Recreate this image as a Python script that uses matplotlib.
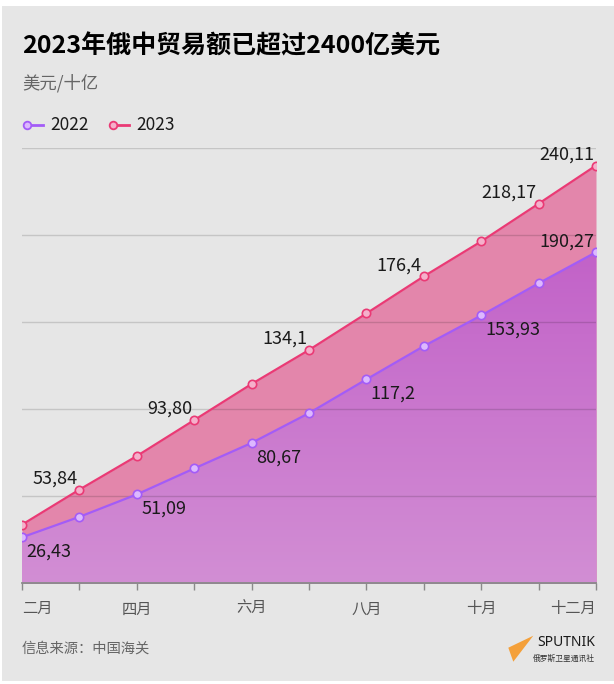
import numpy as np
import matplotlib
matplotlib.use("Agg")
import matplotlib.pyplot as plt
from matplotlib.patches import Rectangle, Polygon
from matplotlib.lines import Line2D

plt.rcParams['font.family'] = ['Noto Sans CJK SC', 'DejaVu Sans']

# data (cumulative trade, billion USD)
months = ['二月', '三月', '四月', '五月', '六月', '七月', '八月', '九月', '十月', '十一月', '十二月']
trade_2022 = [26.43, 38.2, 51.09, 66.0, 80.67, 97.8, 117.2, 136.3, 153.93, 172.4, 190.27]
trade_2023 = [33.69, 53.84, 73.15, 93.80, 114.55, 134.1, 155.1, 176.4, 196.48, 218.17, 240.11]
labels_2022 = {0: '26,43', 2: '51,09', 4: '80,67', 6: '117,2', 8: '153,93', 10: '190,27'}
labels_2023 = {1: '53,84', 3: '93,80', 5: '134,1', 7: '176,4', 9: '218,17', 10: '240,11'}

W, H = 614, 684
def fx(px): return px / W
def fy(py): return 1 - py / H

c22, c23 = '#a35cf7', '#ea3a75'
bg = '#e6e6e6'

fig = plt.figure(figsize=(W / 100, H / 100), dpi=100)
fig.patch.set_facecolor('white')
fig.add_artist(Rectangle((fx(2.3), fy(681)), fx(614) - fx(2.3), fy(5.7) - fy(681),
                         transform=fig.transFigure, facecolor=bg, edgecolor='none', zorder=-10))

ax = fig.add_axes([fx(22), fy(583.3), fx(596) - fx(22), fy(148.3) - fy(583.3)])
ax.set_facecolor('none')
x = np.arange(len(months))

# areas: pink band for 2023, purple gradient for 2022
ax.fill_between(x, 0, trade_2023, color='#e386ab', lw=0, zorder=1)
ax.fill_between(x, 0, trade_2022, color='#c86fca', lw=0, zorder=1.5)
clip = ax.fill_between(x, 0, trade_2022, color='none', lw=0)
grad = np.linspace(0, 1, 256).reshape(-1, 1)
cmap = matplotlib.colors.LinearSegmentedColormap.from_list('g', ['#d28ed4', '#c262c8'])
im = ax.imshow(grad, cmap=cmap, origin='lower', aspect='auto',
               extent=(0, 10, 0, max(trade_2022)), zorder=2)
im.set_clip_path(clip.get_paths()[0], transform=ax.transData)

# gridlines
for gv in [50, 100, 150, 200, 250]:
    ax.axhline(gv, color='black', alpha=0.14, lw=1, zorder=3)

ax.plot(x, trade_2022, color=c22, lw=1.6, marker='o', ms=6, mfc='#dcb8ff', mec=c22, mew=1.2, zorder=5)
ax.plot(x, trade_2023, color=c23, lw=1.6, marker='o', ms=6, mfc='#f5b0cb', mec=c23, mew=1.2, zorder=5)

# value labels
for i, t in labels_2022.items():
    if i == len(months) - 1:
        ax.annotate(t, (x[i], trade_2022[i]), xytext=(-1.5, 4.3), textcoords='offset points',
                    ha='right', va='baseline', fontsize=13, color='#1a1a1a', zorder=6)
    else:
        ax.annotate(t, (x[i], trade_2022[i]), xytext=(3.2, -4), textcoords='offset points',
                    ha='left', va='top', fontsize=13, color='#1a1a1a', zorder=6)
for i, t in labels_2023.items():
    ax.annotate(t, (x[i], trade_2023[i]), xytext=(-1.5, 4.3), textcoords='offset points',
                ha='right', va='baseline', fontsize=13, color='#1a1a1a', zorder=6)

ax.set_xlim(0, 10)
ax.set_ylim(0, 250)
for s in ['top', 'right', 'left']:
    ax.spines[s].set_visible(False)
ax.spines['bottom'].set_color('#8a8a8a')
ax.spines['bottom'].set_linewidth(1.3)
ax.spines['bottom'].set_zorder(4)
ax.set_yticks([])
ax.set_xticks(x)
ax.set_xticklabels([m if i % 2 == 0 else '' for i, m in enumerate(months)])
ax.tick_params(axis='x', length=5.3, width=1, color='#8a8a8a', pad=7, labelsize=11, labelcolor='#555555')
tl = ax.get_xticklabels()
tl[0].set_ha('left')
tl[-1].set_ha('right')

# titles
fig.text(fx(22), fy(46), '2023年俄中贸易额已超过2400亿美元', fontsize=18, fontweight='heavy',
         color='black', ha='left', va='center')
fig.text(fx(22), fy(83), '美元/十亿', fontsize=12.5, color='#666666', ha='left', va='center')

# legend
for lx, col, mfc, txt in [(27, c22, '#dcb8ff', '2022'), (113, c23, '#f5b0cb', '2023')]:
    fig.add_artist(Line2D([fx(lx), fx(lx + 16)], [fy(125), fy(125)], color=col, lw=2,
                          transform=fig.transFigure))
    fig.add_artist(Line2D([fx(lx)], [fy(125)], marker='o', ms=5.5, mfc=mfc, mec=col, mew=1.3,
                          transform=fig.transFigure))
    fig.text(fx(lx + 23), fy(125), txt, fontsize=12.5, color='#1a1a1a', ha='left', va='center')

# footer
fig.text(fx(22), fy(649), '信息来源：中国海关', fontsize=10.3, color='#666666', ha='left', va='center')
fig.add_artist(Polygon([(fx(533.3), fy(635.7)), (fx(508.3), fy(647.7)), (fx(513.3), fy(661.7))],
                       closed=True, transform=fig.transFigure, facecolor='#f4a03a', edgecolor='none'))
fig.text(fx(595), fy(642.5), 'SPUTNIK', fontsize=10, fontweight='heavy', family='Noto Sans',
         color='#1a1a1a', ha='right', va='center')
fig.text(fx(595), fy(659), '俄罗斯卫星通讯社', fontsize=5.6, color='#333333', ha='right', va='center')

fig.savefig('out.png', dpi=100)
